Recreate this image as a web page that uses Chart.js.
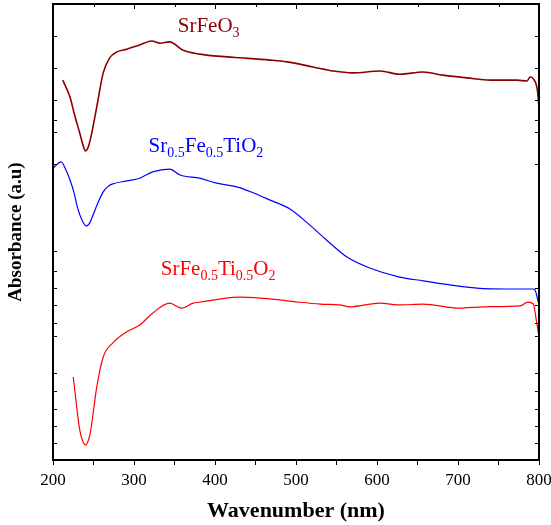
<!DOCTYPE html>
<html>
<head>
<meta charset="utf-8">
<script src="https://cdn.jsdelivr.net/npm/chart.js@4/dist/chart.umd.min.js"></script>
<style>
  html, body { margin: 0; padding: 0; background: #fff; }
  #wrap { width: 551px; height: 525px; }
</style>
</head>
<body>
<div id="wrap"><canvas id="c" width="551" height="525"></canvas></div>
<script>
// ---- data (wavelength in nm, absorbance in arbitrary units, curves offset) ----
const srfeo3Wl  = [212, 221, 226, 233, 237, 240, 243, 246, 254, 262, 270, 279, 291, 307, 322, 332, 344, 360, 381, 415, 431, 468, 489, 521, 546, 570, 604, 628, 657, 681, 711, 740, 773, 785, 789, 793, 798, 800];
const srfeo3Abs = [0.833, 0.796, 0.761, 0.717, 0.691, 0.678, 0.684, 0.702, 0.774, 0.849, 0.882, 0.895, 0.901, 0.910, 0.919, 0.914, 0.917, 0.899, 0.890, 0.884, 0.882, 0.877, 0.873, 0.862, 0.853, 0.849, 0.853, 0.846, 0.851, 0.844, 0.838, 0.833, 0.833, 0.831, 0.840, 0.836, 0.811, 0.772];

const srFeTiO2Wl  = [200, 210, 216, 221, 226, 230, 236, 241, 245, 249, 255, 262, 268, 273, 291, 307, 323, 344, 357, 381, 402, 427, 447, 468, 493, 514, 538, 563, 591, 628, 657, 690, 723, 760, 793, 795, 800];
const srFeTiO2Abs = [0.640, 0.654, 0.636, 0.614, 0.586, 0.555, 0.525, 0.513, 0.519, 0.535, 0.562, 0.588, 0.600, 0.605, 0.612, 0.618, 0.632, 0.638, 0.625, 0.618, 0.607, 0.599, 0.586, 0.570, 0.550, 0.520, 0.482, 0.445, 0.421, 0.401, 0.393, 0.384, 0.377, 0.375, 0.375, 0.373, 0.340];

const srFeTiO3Wl  = [225, 233, 237, 240, 243, 246, 254, 262, 274, 291, 307, 323, 344, 359, 373, 381, 406, 431, 456, 480, 505, 530, 554, 567, 604, 628, 657, 702, 731, 777, 786, 793, 796, 800];
const srFeTiO3Abs = [0.182, 0.066, 0.040, 0.033, 0.040, 0.059, 0.160, 0.226, 0.257, 0.281, 0.296, 0.322, 0.344, 0.333, 0.344, 0.346, 0.353, 0.357, 0.355, 0.351, 0.346, 0.342, 0.340, 0.336, 0.344, 0.340, 0.342, 0.333, 0.336, 0.338, 0.346, 0.342, 0.314, 0.270];

const xTickLabels = [200, 300, 400, 500, 600, 700, 800];
const yTickValues = [0.930, 0.860, 0.789, 0.746, 0.719, 0.649, 0.458, 0.414, 0.377, 0.340, 0.300, 0.272, 0.191, 0.151, 0.112, 0.075, 0.037];

// labels: [text, isSubscript], anchored at [wavelength, absorbance]
const seriesLabels = [
  { at: [354, 0.939], color: '#8b0000', parts: [['SrFeO', false], ['3', true]] },
  { at: [318, 0.675], color: '#0000ff', parts: [['Sr', false], ['0.5', true], ['Fe', false], ['0.5', true], ['TiO', false], ['2', true]] },
  { at: [333, 0.406], color: '#ff0000', parts: [['SrFe', false], ['0.5', true], ['Ti', false], ['0.5', true], ['O', false], ['2', true]] }
];

const toPts = (xs, ys) => xs.map((x, i) => ({ x: x, y: ys[i] }));

const serif = "'Liberation Serif', 'Times New Roman', serif";

const decorPlugin = {
  id: 'decor',
  afterDraw(chart) {
    const { ctx, chartArea: a, scales } = chart;
    const xs = scales.x, ys = scales.y;
    ctx.save();
    ctx.strokeStyle = '#000';
    ctx.lineWidth = 1;
    for (let v = 200; v <= 800; v += 50) {
      const px = Math.round(xs.getPixelForValue(v)) + 0.5;
      ctx.beginPath();
      ctx.moveTo(px, a.top);
      ctx.lineTo(px, a.top + (v % 100 === 0 ? 5 : 3));
      ctx.stroke();
    }
    yTickValues.forEach(v => {
      const py = Math.round(ys.getPixelForValue(v)) + 0.5;
      ctx.beginPath();
      ctx.moveTo(a.left, py); ctx.lineTo(a.left + 4, py);
      ctx.moveTo(a.right, py); ctx.lineTo(a.right - 4, py);
      ctx.stroke();
    });
    ctx.lineWidth = 2;
    ctx.strokeRect(a.left, a.top, a.right - a.left, a.bottom - a.top);
    seriesLabels.forEach(l => {
      let x = xs.getPixelForValue(l.at[0]);
      const y = ys.getPixelForValue(l.at[1]);
      ctx.fillStyle = l.color;
      ctx.textBaseline = 'alphabetic';
      ctx.textAlign = 'left';
      l.parts.forEach(([t, sub]) => {
        ctx.font = (sub ? '14px ' : '21px ') + serif;
        ctx.fillText(t, x, sub ? y + 5 : y);
        x += ctx.measureText(t).width;
      });
    });
    ctx.restore();
  }
};

new Chart(document.getElementById('c'), {
  type: 'line',
  data: {
    datasets: [
      { data: toPts(srfeo3Wl, srfeo3Abs), borderColor: '#8b0000', borderWidth: 1.6 },
      { data: toPts(srFeTiO2Wl, srFeTiO2Abs), borderColor: '#0000ff', borderWidth: 1.2 },
      { data: toPts(srFeTiO3Wl, srFeTiO3Abs), borderColor: '#ff0000', borderWidth: 1.2 }
    ]
  },
  options: {
    responsive: false,
    animation: false,
    devicePixelRatio: 1,
    layout: { padding: { top: 4, right: 12, left: 0, bottom: 0 } },
    elements: {
      point: { radius: 0 },
      line: { cubicInterpolationMode: 'monotone', fill: false }
    },
    plugins: { legend: { display: false }, tooltip: { enabled: false } },
    scales: {
      x: {
        type: 'linear', min: 200, max: 800,
        afterFit(s) { s.height = 65; s.paddingLeft = 0; s.paddingRight = 0; },
        border: { display: false },
        grid: { drawOnChartArea: false, tickLength: 5, color: '#000', lineWidth: 1 },
        ticks: {
          stepSize: 50, color: '#000', padding: 5, maxRotation: 0, autoSkip: false,
          font: { family: serif, size: 17 },
          callback: v => (xTickLabels.includes(v) ? String(v) : '')
        },
        title: {
          display: true, text: 'Wavenumber (nm)', color: '#000',
          font: { family: serif, size: 22, weight: 'bold' },
          padding: { top: 6, bottom: 0 }
        }
      },
      y: {
        type: 'linear', min: 0, max: 1,
        afterFit(s) { s.width = 53; s.paddingTop = 0; s.paddingBottom = 0; },
        border: { display: false },
        grid: { display: false },
        ticks: { display: false },
        title: {
          display: true, text: 'Absorbance (a.u)', color: '#000',
          font: { family: serif, size: 19, weight: 'bold' },
          padding: { top: 5, bottom: 4 }
        }
      }
    }
  },
  plugins: [decorPlugin]
});
</script>
</body>
</html>
